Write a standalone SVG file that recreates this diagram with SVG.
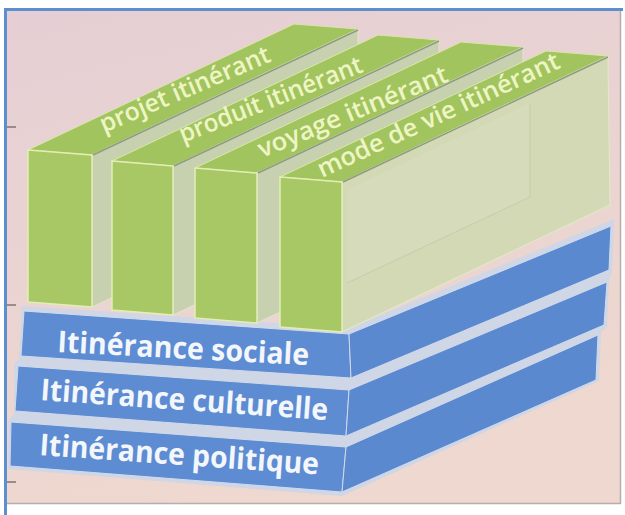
<svg xmlns="http://www.w3.org/2000/svg" width="625" height="515" viewBox="0 0 625 515">
<defs>
<linearGradient id="bg" x1="0" y1="0" x2="0.3" y2="1">
<stop offset="0" stop-color="#e6cfd4"/>
<stop offset="1" stop-color="#eed8cf"/>
</linearGradient>
<style>
.slab{fill:#5d8cd3;stroke:#d2d9ea;stroke-width:1}
.slabside{fill:#5a89d0;stroke:#d2d9ea;stroke-width:1}
.slabtxt{font-family:"Open Sans","DejaVu Sans",sans-serif;font-weight:700;font-size:30px;fill:#f3f6fb}
.front{fill:#a7c865;stroke:#e3eeb6;stroke-width:1.5;stroke-linejoin:round}
.top{fill:#a2c45e;stroke:#d9e6a8;stroke-width:1;stroke-linejoin:round}
.side{fill:#c7d1af;stroke:#dfe6c8;stroke-width:1;stroke-linejoin:round}
.side4{fill:#d3d8b5;stroke:#e2e7c8;stroke-width:1.2;stroke-linejoin:round}
.ridge{fill:none;stroke:#8e9b86;stroke-width:1.5}
.faint{fill:none;stroke:#c0c7a2;stroke-width:1;opacity:0.7}
.bartxt{font-family:"Open Sans","DejaVu Sans",sans-serif;font-weight:600;font-size:25px;fill:#eef5c4}
.tick{stroke:#9b8c8c;stroke-width:2}
</style>
</defs>
<g id="frame">
<rect x="0" y="0" width="625" height="515" fill="#ffffff"/>
<rect x="7" y="11" width="613" height="492" fill="url(#bg)"/>
<line x1="620.5" y1="11" x2="620.5" y2="504" stroke="#b9acac" stroke-width="1.5"/>
<line x1="7" y1="503.5" x2="621" y2="503.5" stroke="#b9acac" stroke-width="1.5"/>
<rect x="4" y="8" width="619" height="3" fill="#5b8fcf"/>
<rect x="4" y="8" width="3" height="507" fill="#5b8fcf"/>
<line class="tick" x1="7" y1="127" x2="16" y2="127"/>
<line class="tick" x1="7" y1="305" x2="16" y2="305"/>
<line class="tick" x1="7" y1="482" x2="16" y2="482"/>
</g>
<g id="connectors"/>
<g id="slab-base">
<polygon points="22,306 349,328 614,219 612,273 609,279 607,327 601,332 599,381 342,496 8,469 9,420 14,414 14,364 19,359" fill="#cfd6e6"/>
</g>
<g id="slab-politique">
<polygon class="slab" points="11,422 346,447 342,492 10,466"/>
<polygon class="slabside" points="346,447 598,335 596,380 342,492"/>
<text class="slabtxt" transform="translate(39,455) rotate(4)" textLength="280" lengthAdjust="spacingAndGlyphs">Itinérance politique</text>
</g>
<g id="slab-culturelle">
<polygon class="slab" points="18,366 349,390 346,436 15,411"/>
<polygon class="slabside" points="349,390 607,282 604,325 346,436"/>
<text class="slabtxt" transform="translate(40,400) rotate(4)" textLength="288" lengthAdjust="spacingAndGlyphs">Itinérance culturelle</text>
</g>
<g id="slab-sociale">
<polygon class="slab" points="24,311 349,334 351,378 21,356"/>
<polygon class="slabside" points="349,334 611,226 609,270 351,378"/>
<text class="slabtxt" transform="translate(57,352) rotate(3)" textLength="252" lengthAdjust="spacingAndGlyphs">Itinérance sociale</text>
</g>
<g id="bar-projet">
<polygon class="side" points="92,155 358,29 358,181 92,307"/>
<polygon class="top" points="28,150 92,155 358,29 294,24"/>
<polygon class="front" points="28,150 92,155 92,307 28,302"/>
<line class="ridge" x1="93" y1="155" x2="358" y2="30"/>
<text class="bartxt" transform="translate(104,133) rotate(-23.2)" textLength="183" lengthAdjust="spacingAndGlyphs">projet itinérant</text>
</g>
<g id="bar-produit">
<polygon class="side" points="173,166 439,40 439,189 173,315"/>
<polygon class="top" points="112,161 173,166 439,40 378,35"/>
<polygon class="front" points="112,161 173,166 173,315 112,310"/>
<line class="ridge" x1="174" y1="166" x2="439" y2="41"/>
<text class="bartxt" transform="translate(183,143) rotate(-21.5)" textLength="195" lengthAdjust="spacingAndGlyphs">produit itinérant</text>
</g>
<g id="bar-voyage">
<polygon class="side" points="257,173 523,47 523,197 257,323"/>
<polygon class="top" points="195,168 257,173 523,47 461,42"/>
<polygon class="front" points="195,168 257,173 257,323 195,318"/>
<line class="ridge" x1="258" y1="173" x2="523" y2="48"/>
<text class="bartxt" transform="translate(262,158) rotate(-22.3)" textLength="203" lengthAdjust="spacingAndGlyphs">voyage  itinérant</text>
</g>
<g id="bar-mode">
<polygon class="side4" points="342,182 608,56 610,205 342,332"/>
<polygon points="347,190 530,103 530,197 347,283" fill="#d9ddbf" opacity="0.6"/>
<path class="faint" d="M347,283 L530,197 L530,103"/>
<polygon class="top" points="280,177 342,182 608,56 546,51"/>
<polygon class="front" points="280,177 342,182 342,332 280,327"/>
<line class="ridge" x1="343" y1="182" x2="608" y2="57"/>
<text class="bartxt" transform="translate(322,178) rotate(-24.8)" textLength="264" lengthAdjust="spacingAndGlyphs">mode de vie itinérant</text>
</g>
</svg>
